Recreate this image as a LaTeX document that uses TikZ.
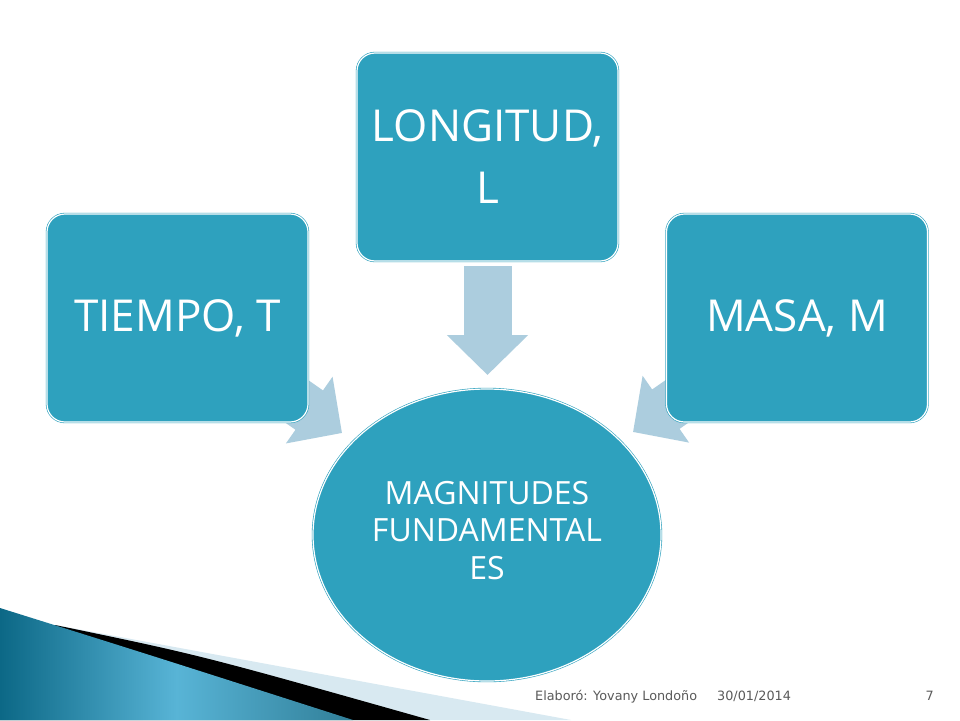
\documentclass[tikz,border=0pt]{standalone}
\usepackage{fontspec}
\setmainfont{Open Sans}
\newfontfamily\footfont{DejaVu Sans}
\usetikzlibrary{positioning, shapes.geometric, arrows.meta, backgrounds}
\definecolor{myteal}{RGB}{46,161,190}
\definecolor{myarrow}{RGB}{172,205,222}
\definecolor{mystripe}{RGB}{216,233,241}
\definecolor{mydark}{RGB}{12,104,134}
\definecolor{mylight}{RGB}{88,180,214}
\definecolor{mygray}{RGB}{90,90,90}
\tikzset{
  box/.style={draw=myteal, double=white, double distance=1.2pt, line width=0.6pt,
    fill=myteal, rounded corners=18pt, minimum width=261pt, minimum height=208pt,
    text=white, align=center, font=\fontsize{44}{62}\selectfont},
  oval/.style={ellipse, draw=myteal, double=white, double distance=1.2pt, line width=0.6pt,
    fill=myteal, minimum width=348pt, minimum height=292pt, inner sep=0,
    text=white, align=center, text depth=10pt, font=\fontsize{32}{37.5}\selectfont},
  blockarrow/.style={draw=myarrow, line width=48pt,
    -{Triangle[length=40pt,width=79pt]}},
  foot/.style={text=mygray, inner sep=0, font=\footfont\fontsize{12.8}{15}\selectfont}
}

\begin{document}
\begin{tikzpicture}[x=1pt,y=-1pt]

\useasboundingbox (0,0) rectangle (960,720);

\node [box] (tiempo) at (177.5,318) {TIEMPO, T};
\node [box] (longitud) at (487.5,157) {LONGITUD,\\L};
\node [box] (masa) at (797,318) {MASA, M};
\node [oval] (magnitudes) at (487,535) {MAGNITUDES\\FUNDAMENTAL\\ES};

\coordinate (tipC) at (487.5,375);
\coordinate (tipL) at (342,433);
\coordinate (tipR) at (633,432);

\begin{scope}[on background layer]
\fill[white] (0,0) rectangle (960,720);

% franja inferior
\fill[mystripe] (55,625) -- (571,720) -- (0,720) -- cycle;
\fill[black] (55,625) .. controls (200,655) .. (430,720) -- (0,720) -- cycle;
\shade[left color=mydark, right color=mydark!85, middle color=mylight]
  (0,608) .. controls (150,655) .. (353,720) -- (0,720) -- cycle;

\draw[blockarrow, shorten <=5pt] (longitud.south) -- (tipC);
\draw[blockarrow] (tiempo.center) -- (tipL);
\draw[blockarrow] (masa.center) -- (tipR);
\end{scope}

\node [foot, anchor=base west] (autor) at (535,700) {Elaboró: Yovany Londoño};
\node [foot, anchor=base west] (fecha) at (717,700) {30/01/2014};
\node [foot, anchor=base east] (pagina) at (934,700) {7};

\end{tikzpicture}
\end{document}
